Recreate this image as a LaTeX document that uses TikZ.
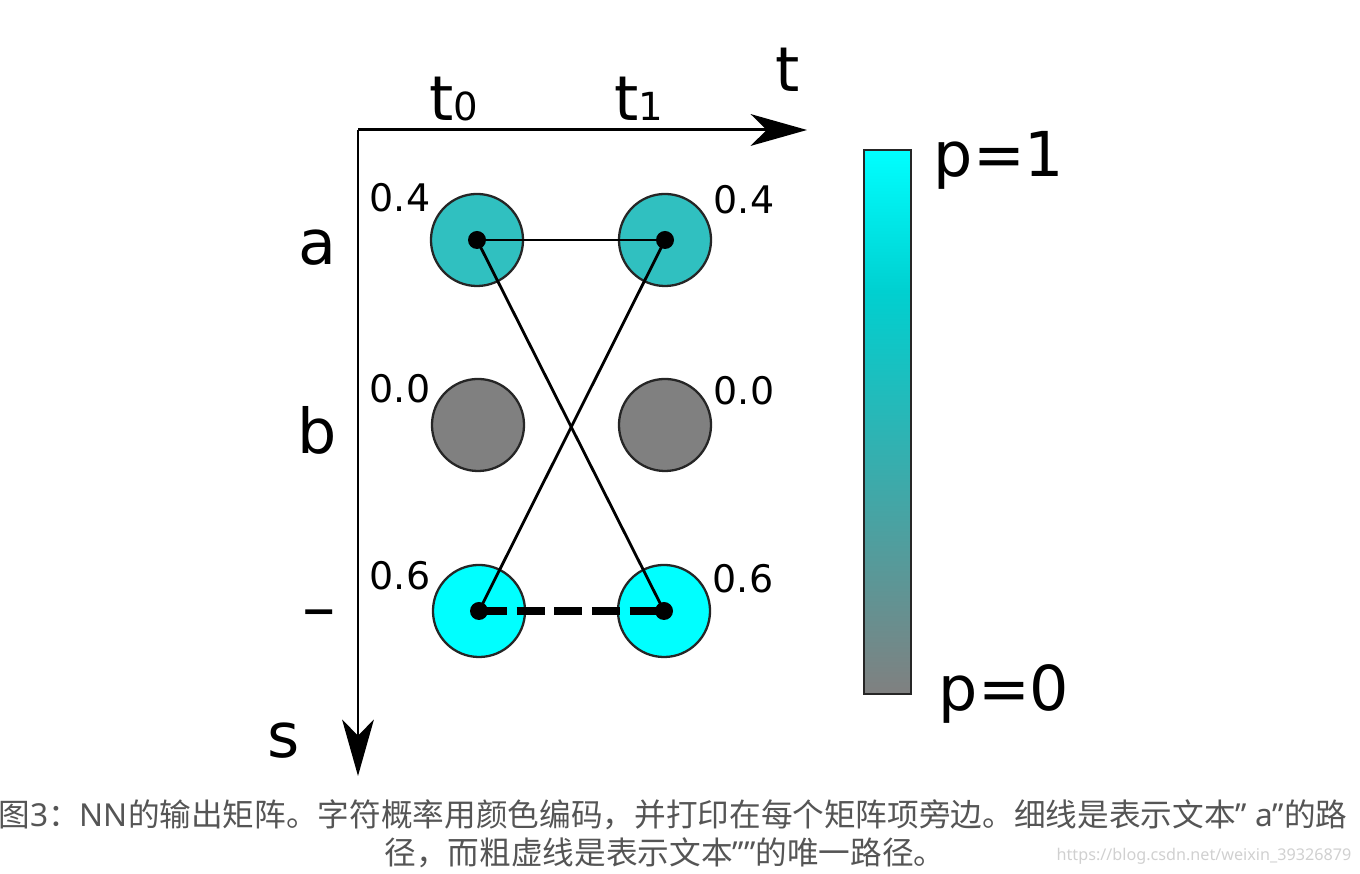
\documentclass[tikz,border=0pt]{standalone}
\usepackage{fontspec}
\setmainfont{DejaVu Sans}
\newfontfamily\cjkf{Noto Sans CJK SC}
\newfontfamily\latf{Noto Sans}
\usetikzlibrary{arrows.meta}
\definecolor{teal1}{HTML}{30C0C0}
\definecolor{gray1}{HTML}{808080}
\definecolor{cyan1}{HTML}{00FFFF}
\definecolor{cyan2}{HTML}{00D0D0}
\definecolor{captc}{HTML}{555555}
\definecolor{wmc}{HTML}{D0D0D0}
\tikzset{
  cell/.style={circle, minimum size=0.92cm, inner sep=0pt, draw=black!85, line width=0.65pt},
  big/.style={font=\fontsize{17.6}{20}\selectfont, inner sep=0pt},
  prob/.style={font=\fontsize{10.8}{12}\selectfont, inner sep=0pt},
  pl/.style={font=\fontsize{17.6}{20}\selectfont, inner sep=0pt},
  path/.style={line width=0.8pt, black},
  blank/.style={line width=2.5pt, black, dash pattern=on 8pt off 2.7pt},
  axis/.style={line width=0.85pt, black},
  tip/.style={-{Stealth[length=16pt, width=9pt, inset=4.5pt]}},
  capt/.style={font=\cjkf\fontsize{9.0}{11}\selectfont, text=captc, inner sep=0pt}
}
\begin{document}
\begin{tikzpicture}[x=0.01cm, y=-0.01cm]
\useasboundingbox (0,0) rectangle (1360,874);
% axes
\coordinate (o) at (358,130);
\coordinate (tend) at (807,130);
\coordinate (send) at (358,776);
\draw[axis, tip] (o) -- (tend);
\draw[axis, tip] (o) -- (send);
\node[big] (tl) at (788,70) {t};
\node[big] (sl) at (284,741) {s};
\node[big] (t0) at (454,99) {t{\fontsize{11}{12}\selectfont 0}};
\node[big] (t1) at (639,99) {t{\fontsize{11}{12}\selectfont 1}};
\node[big] (ra) at (317,248) {a};
\node[big] (rb) at (317,430) {b};
\node[big, font=\fontsize{19}{20}\selectfont] (rc) at (319,620) {–};
% cells
\node[cell, fill=teal1] (a0) at (477,240) {};
\node[cell, fill=teal1] (a1) at (665,240) {};
\node[cell, fill=gray1] (b0) at (478,425) {};
\node[cell, fill=gray1] (b1) at (665,425) {};
\node[cell, fill=cyan1] (c0) at (479,611) {};
\node[cell, fill=cyan1] (c1) at (664,611) {};
% probabilities
\node[prob] (pa0) at (400,198) {0.4};
\node[prob] (pa1) at (744,200) {0.4};
\node[prob] (pb0) at (400,389) {0.0};
\node[prob] (pb1) at (744,391) {0.0};
\node[prob] (pc0) at (400,576) {0.6};
\node[prob] (pc1) at (743,579) {0.6};
% paths
\draw[path] (a0.center) -- (a1.center);
\draw[path] (a0.center) -- (c1.center);
\draw[path] (a1.center) -- (c0.center);
\draw[blank] (c0.center) -- (c1.center);
\foreach \n in {a0,a1,c0,c1} \fill (\n.center) circle (9);
% colour bar
\shade[top color=cyan1, bottom color=cyan2] (864,150) rectangle (911,292);
\shade[top color=cyan2, bottom color=gray1] (864,291) rectangle (911,694);
\draw[line width=0.7pt, black!85] (864,150) rectangle (911,694);
\node[pl] (p1) at (999,160) {p=1};
\node[pl] (p0) at (1004,694) {p=0};
% caption
\node[capt] (cap1) at (673,815) {图{\latf 3}：{\latf NN}的输出矩阵。字符概率用颜色编码，并打印在每个矩阵项旁边。细线是表示文本{\latf ” a”}的路};
\node[capt] (cap2) at (665,853) {径，而粗虚线是表示文本{\latf ””}的唯一路径。};
\node[font=\latf\fontsize{4.6}{5}\selectfont, text=wmc, inner sep=0pt, anchor=east] (wm) at (1352,856) {https://blog.csdn.net/weixin\_39326879};
\end{tikzpicture}
\end{document}
